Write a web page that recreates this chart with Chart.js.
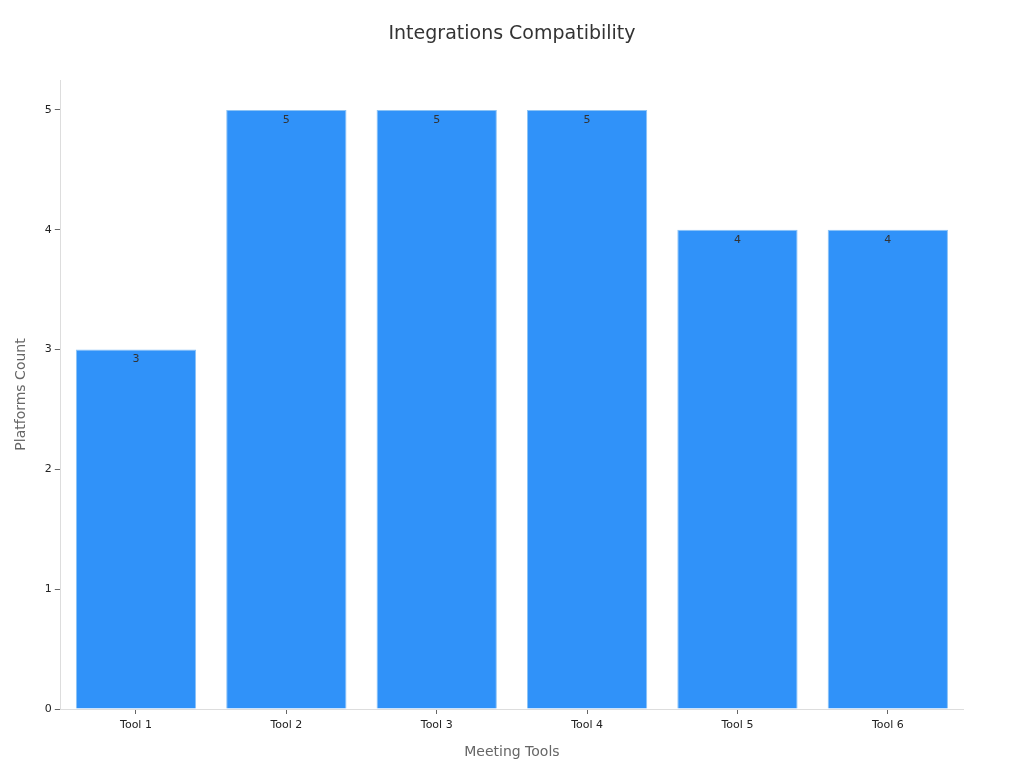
<!DOCTYPE html>
<html>
<head>
<meta charset="utf-8">
<script src="https://cdn.jsdelivr.net/npm/chart.js@4"></script>
<style>
  html, body { margin: 0; padding: 0; background: #fff; }
  #wrap { width: 1024px; height: 768px; }
</style>
</head>
<body>
<div id="wrap"><canvas id="chartTools"></canvas></div>
<script>
const tools = ['Tool 1', 'Tool 2', 'Tool 3', 'Tool 4', 'Tool 5', 'Tool 6'];
const platformsCount = [3, 5, 5, 5, 4, 4];
const yTicks = [0, 1, 2, 3, 4, 5];
const chartTitle = 'Integrations Compatibility';

Chart.defaults.font.family = 'DejaVu Sans';
Chart.defaults.font.size = 11;

// title centred on the whole canvas, value labels inside the bar tops
const extras = {
  id: 'extras',
  afterDraw(chart) {
    const ctx = chart.ctx;
    ctx.save();
    ctx.textAlign = 'center';
    ctx.textBaseline = 'middle';
    ctx.font = '19px DejaVu Sans';
    ctx.fillStyle = '#333';
    ctx.fillText(chartTitle, chart.width / 2, 34);

    ctx.font = '11px DejaVu Sans';
    ctx.fillStyle = '#333';
    chart.getDatasetMeta(0).data.forEach((bar, i) => {
      ctx.fillText(platformsCount[i], bar.x, bar.y + 10);
    });
    ctx.restore();
  }
};

new Chart(document.getElementById('chartTools'), {
  type: 'bar',
  data: {
    labels: tools,
    datasets: [{
      label: 'Platforms Count',
      data: platformsCount,
      backgroundColor: '#3092f9',
      borderColor: '#8cc3f5',
      borderWidth: 1,
      barPercentage: 0.8,
      categoryPercentage: 1
    }]
  },
  options: {
    responsive: true,
    maintainAspectRatio: false,
    animation: false,
    layout: { padding: { left: 9, right: 61, top: 80, bottom: 3 } },
    plugins: {
      legend: { display: false },
      tooltip: { enabled: false },
      title: { display: false }
    },
    scales: {
      y: {
        min: 0,
        max: 5.25,
        afterBuildTicks: axis => { axis.ticks = yTicks.map(v => ({ value: v })); },
        grid: { display: true, drawOnChartArea: false, tickLength: 6, color: '#666' },
        border: { display: true, color: '#ddd' },
        ticks: { color: '#222', padding: 3, font: { size: 11 } },
        title: {
          display: true,
          text: 'Platforms Count',
          color: '#666',
          font: { size: 14 },
          padding: { bottom: 12 }
        }
      },
      x: {
        grid: { display: true, offset: false, drawOnChartArea: false, tickLength: 5, color: '#666' },
        border: { display: true, color: '#ddd' },
        ticks: { color: '#222', padding: 5, font: { size: 11 } },
        title: {
          display: true,
          text: 'Meeting Tools',
          color: '#666',
          font: { size: 14 },
          padding: { top: 7 }
        }
      }
    }
  },
  plugins: [extras]
});
</script>
</body>
</html>
